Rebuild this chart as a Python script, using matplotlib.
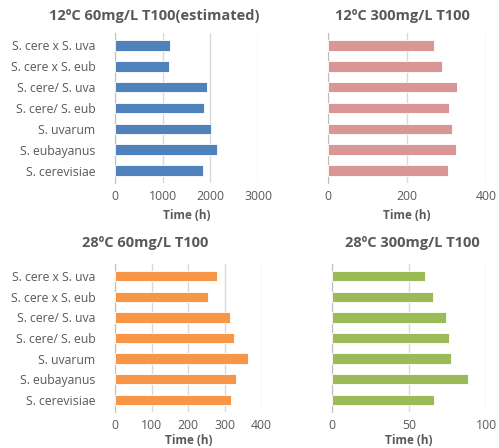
import matplotlib
matplotlib.use("Agg")
import matplotlib.pyplot as plt

plt.rcParams['font.family'] = ['Open Sans', 'DejaVu Sans']

# 菌株类别（从下到上）
strains = ["S. cerevisiae", "S. eubayanus", "S. uvarum", "S. cere/ S. eub",
           "S. cere/ S. uva", "S. cere x S. eub", "S. cere x S. uva"]

# 各条件下的 T100 时间（h）
t_12c_60 = [1850, 2130, 2020, 1870, 1920, 1130, 1160]
t_12c_300 = [303, 323, 315, 307, 326, 288, 269]
t_28c_60 = [315, 330, 362, 324, 314, 253, 277]
t_28c_300 = [66, 88.5, 77.5, 76, 74.3, 65.6, 60.4]

W, H = 499, 448
TEXT = "#595959"
GRID = "#D9D9D9"

fig = plt.figure(figsize=(W / 100, H / 100), dpi=100)


def panel(rect, values, color, title, title_xy, label_y, xmax, step, show_labels):
    left, top, right, bottom = rect
    ax = fig.add_axes([left / W, 1 - bottom / H, (right - left) / W, (bottom - top) / H])
    ax.barh(range(len(strains)), values, height=0.5, color=color,
            edgecolor="white", linewidth=0.6, zorder=3)
    ax.set_xlim(0, xmax)
    ax.set_ylim(-0.6, len(strains) - 0.4)
    ax.set_xticks(range(0, xmax + 1, step))
    ax.grid(axis="x", color=GRID, linewidth=1, zorder=0)
    for s in ["top", "right", "bottom"]:
        ax.spines[s].set_visible(False)
    ax.spines["left"].set_color("#BFBFBF")
    ax.tick_params(length=0, colors=TEXT)
    ax.tick_params(axis="x", pad=5, labelsize=8.8)
    ax.tick_params(axis="y", pad=14, labelsize=8.8)
    if show_labels:
        ax.set_yticks(range(len(strains)))
        ax.set_yticklabels(strains)
    else:
        ax.set_yticks([])
    # x 轴标题放在绘图区中央下方
    fig.text((left + right) / 2 / W, 1 - label_y / H, "Time (h)",
             ha="center", va="center", fontsize=8.5, fontweight="bold", color=TEXT)
    # 图标题按 Excel 习惯居中于整个图表区
    fig.text(title_xy[0] / W, 1 - title_xy[1] / H, title,
             ha="center", va="center", fontsize=10.5, fontweight="bold", color=TEXT)
    return ax


panel((115, 33, 258, 183), t_12c_60, "#4F81BD", "12ºC 60mg/L T100(estimated)",
      (154, 16), 215, 3000, 1000, True)
panel((327.7, 33, 486, 183), t_12c_300, "#D99694", "12ºC 300mg/L T100",
      (402, 16), 215, 400, 200, False)
panel((115, 264, 261.7, 412), t_28c_60, "#F79646", "28ºC 60mg/L T100",
      (145, 243), 440, 400, 100, True)
panel((332.3, 264, 486, 412), t_28c_300, "#9BBB59", "28ºC 300mg/L T100",
      (412, 243), 440, 100, 50, False)

fig.savefig("out.png", dpi=100)
